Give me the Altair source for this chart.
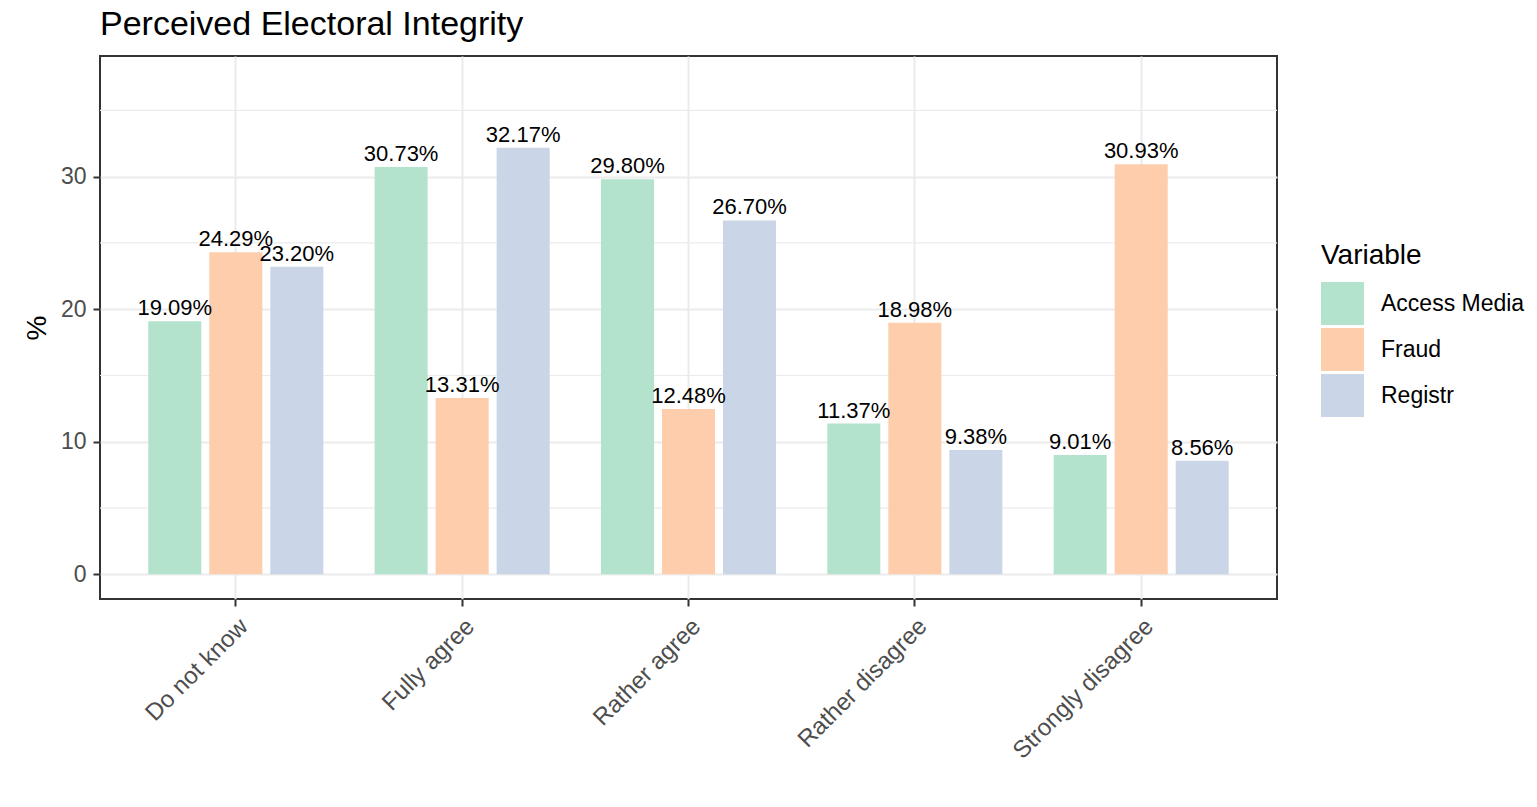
import altair as alt
import pandas as pd

categories = ["Do not know", "Fully agree", "Rather agree", "Rather disagree", "Strongly disagree"]
variables = ["Access Media", "Fraud", "Registr"]
access_media = [19.09, 30.73, 29.80, 11.37, 9.01]
fraud = [24.29, 13.31, 12.48, 18.98, 30.93]
registr = [23.20, 32.17, 26.70, 9.38, 8.56]
colors = ["#B3E2CD", "#FDCDAC", "#CBD5E8"]
major_ticks = [0, 10, 20, 30]
minor_ticks = [5, 15, 25, 35]

rows = []
for var, vals in zip(variables, [access_media, fraud, registr]):
    for c, v in zip(categories, vals):
        rows.append({"Response": c, "Variable": var, "Pct": v, "Label": f"{v:.2f}%"})
df = pd.DataFrame(rows)
minor_df = pd.DataFrame({"Pct": minor_ticks})

FONT = "Liberation Sans, Arial, sans-serif"
W, H = 1177, 543

y_scale = alt.Scale(domain=[-1.86, 39.1], nice=False, zero=False)
x_scale = alt.Scale(domain=categories, paddingInner=0, paddingOuter=0.1)
xo_scale = alt.Scale(domain=variables, paddingInner=0.131, paddingOuter=0.42)
color_scale = alt.Scale(domain=variables, range=colors)

x_axis = alt.Axis(
    title=None, labelAngle=315, labelAlign="right", labelBaseline="top",
    labelFontSize=24, labelColor="#4D4D4D", labelFont=FONT, labelLimit=0,
    labelPadding=8, labelOffset=0,
    tickColor="#333333", tickSize=7, tickWidth=2,
    domain=False, grid=True, gridColor="#EBEBEB", gridWidth=2, bandPosition=0.5,
)
y_axis = alt.Axis(
    title="%", values=major_ticks, format="d",
    labelFontSize=23, labelColor="#4D4D4D", labelFont=FONT, labelPadding=7,
    tickColor="#333333", tickSize=7, tickWidth=2,
    domain=False, grid=True, gridColor="#EBEBEB", gridWidth=2,
    titleFontSize=28, titleColor="black", titleFontWeight="normal", titleFont=FONT,
    titleAngle=270, titleX=-63, titleY=H / 2, titleBaseline="middle", titleAlign="center",
)
legend = alt.Legend(
    title="Variable", orient="none", legendX=1221, legendY=186,
    titleFontSize=28, titleFontWeight="normal", titleColor="black", titleFont=FONT,
    labelFontSize=23, labelColor="black", labelFont=FONT, labelLimit=0,
    symbolType="square", symbolSize=1849, symbolStrokeWidth=0, symbolOpacity=1,
    labelOffset=17, rowPadding=3, titlePadding=12, padding=0,
)

minor = alt.Chart(minor_df).mark_rule(color="#EBEBEB", strokeWidth=1.2).encode(
    y=alt.Y("Pct:Q", scale=y_scale, axis=y_axis)
)

base = alt.Chart(df).encode(
    x=alt.X("Response:N", scale=x_scale, axis=x_axis, sort=categories),
    xOffset=alt.XOffset("Variable:N", scale=xo_scale, sort=variables),
    y=alt.Y("Pct:Q", scale=y_scale, axis=y_axis),
)

bars = base.mark_bar().encode(
    color=alt.Color("Variable:N", scale=color_scale, legend=legend, sort=variables)
)
labels = base.mark_text(dy=-6, baseline="alphabetic", fontSize=22, color="black", font=FONT).encode(
    text="Label:N"
)

chart = alt.layer(minor, bars, labels).properties(
    width=W, height=H,
    autosize=alt.AutoSizeParams(type="none"),
    padding={"left": 92, "top": 48, "right": 250, "bottom": 190},
    title=alt.TitleParams(
        "Perceived Electoral Integrity", anchor="start", fontSize=34,
        fontWeight="normal", color="black", font=FONT, offset=14, frame="group",
    ),
).configure(font=FONT).configure_view(stroke="#333333", strokeWidth=2)

chart.save("out.html", embed_options={"renderer": "svg", "actions": False})
